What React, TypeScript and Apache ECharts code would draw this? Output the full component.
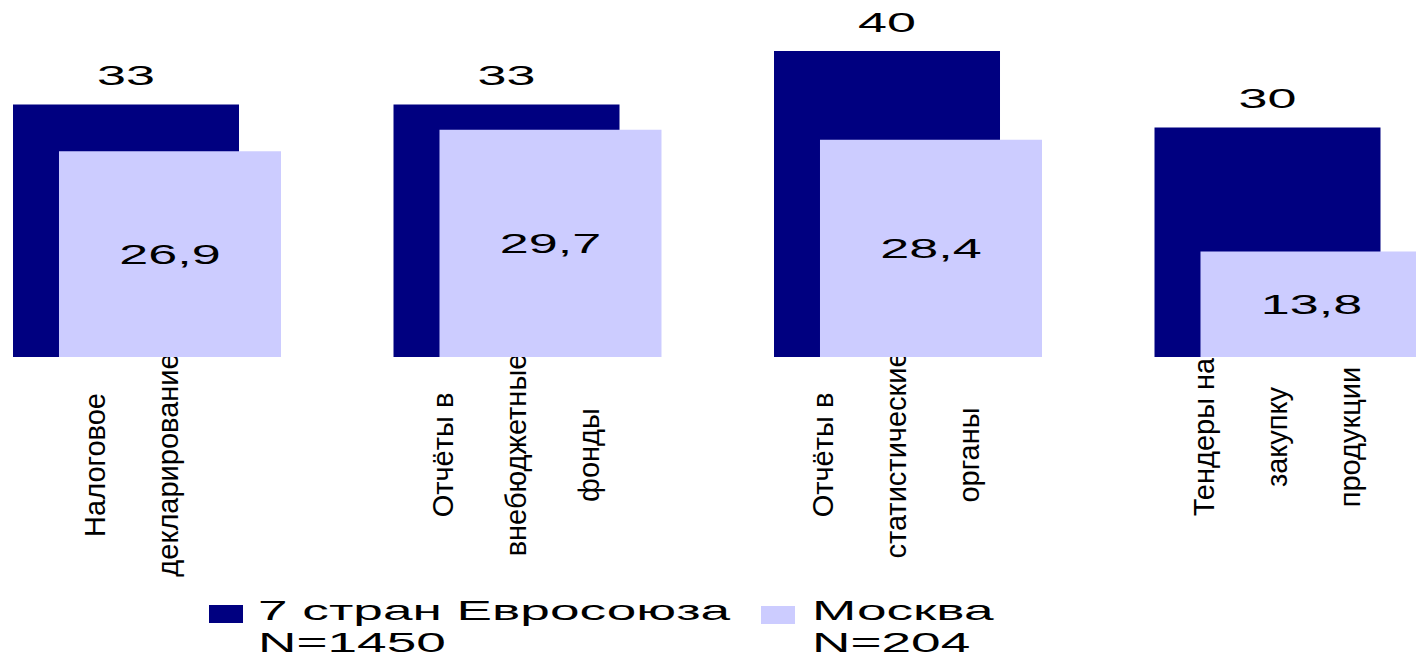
import React, { useEffect, useRef } from "react";
import * as echarts from "echarts";

const categories = [
  "Налоговое\nдекларирование",
  "Отчёты в\nвнебюджетные\nфонды",
  "Отчёты в\nстатистические\nорганы",
  "Тендеры на\nзакупку\nпродукции",
];
const euValues = [33, 33, 40, 30];
const moscowValues = [26.9, 29.7, 28.4, 13.8];
const euName = "7 стран Евросоюза\nN=1450";
const moscowName = "Москва\nN=204";

const NAVY = "#000080";
const LAVENDER = "#CCCCFF";
const FONT = '"Liberation Sans", Arial, sans-serif';
const STRETCH = 1.86;
const LINE_H = 73;

const fmt = (v: number) => String(v).replace(".", ",");

export default function App() {
  const ref = useRef<HTMLDivElement>(null);
  useEffect(() => {
    if (!ref.current) return;
    const chart = echarts.init(ref.current, undefined, { renderer: "svg" });
    // [across shift, right pad, left pad] per category label
    const labelShifts = [
      [16, 20, 0],
      [12, 0, 0],
      [12, 0, 0],
      [12, 0, 36],
    ];
    const labelStyle = {
      align: "center",
      verticalAlign: "top",
      fontSize: 29,
      fontFamily: FONT,
      color: "#000",
      lineHeight: LINE_H,
    };
    chart.setOption({
      animation: false,
      backgroundColor: "#ffffff",
      grid: {
        left: -43.25,
        right: -62.75,
        top: 51,
        bottom: 300,
        containLabel: false,
        outerBoundsMode: "none",
      },
      xAxis: {
        type: "category",
        data: categories.map((c, i) => {
          const n = c.split("\n").length;
          const s = labelShifts[i];
          return {
            value: c,
            textStyle: {
              ...labelStyle,
              padding: [-(LINE_H * n) / 2 - s[0], s[1], 0, s[2]],
            },
          };
        }),
        axisLine: { show: false },
        axisTick: { show: false },
        splitLine: { show: false },
        axisLabel: {
          interval: 0,
          rotate: 90,
          margin: 98,
          hideOverlap: false,
          ...labelStyle,
        },
      },
      yAxis: { type: "value", min: 0, max: 40, show: false, splitLine: { show: false } },
      series: [
        {
          name: euName,
          type: "bar",
          data: euValues,
          barWidth: 226,
          barGap: "-79.65%",
          itemStyle: { color: NAVY },
          z: 2,
        },
        {
          name: moscowName,
          type: "bar",
          data: moscowValues,
          barWidth: 222,
          barGap: "-79.65%",
          itemStyle: { color: LAVENDER },
          z: 2,
        },
        {
          type: "custom",
          z: 5,
          data: euValues.map((v, i) => [i, v]),
          renderItem: (params: any, api: any) => {
            const v = api.value(1);
            const c = api.coord([api.value(0), v]);
            return {
              type: "text",
              x: c[0] - 21,
              y: c[1] - 29,
              scaleX: STRETCH,
              style: {
                text: fmt(v),
                fill: "#000",
                font: `28px ${FONT}`,
                textAlign: "center",
                textVerticalAlign: "middle",
              },
            };
          },
        },
        {
          type: "custom",
          z: 5,
          data: moscowValues.map((v, i) => [i, v]),
          renderItem: (params: any, api: any) => {
            const v = api.value(1);
            const c = api.coord([api.value(0), v]);
            const z0 = api.coord([api.value(0), 0]);
            return {
              type: "text",
              x: c[0] + 23,
              y: (c[1] + z0[1]) / 2,
              scaleX: STRETCH,
              style: {
                text: fmt(v),
                fill: "#000",
                font: `28px ${FONT}`,
                textAlign: "center",
                textVerticalAlign: "middle",
              },
            };
          },
        },
      ],
      graphic: [
        { type: "rect", shape: { x: 209, y: 605, width: 34, height: 18 }, style: { fill: NAVY } },
        {
          type: "text",
          x: 258,
          y: 594,
          scaleX: 1.9,
          style: { text: euName, fill: "#000", font: `28px ${FONT}`, lineHeight: 32, textVerticalAlign: "top" },
        },
        { type: "rect", shape: { x: 761, y: 606, width: 34, height: 18 }, style: { fill: LAVENDER } },
        {
          type: "text",
          x: 812,
          y: 594,
          scaleX: 1.9,
          style: { text: moscowName, fill: "#000", font: `28px ${FONT}`, lineHeight: 32, textVerticalAlign: "top" },
        },
      ],
    });
    return () => chart.dispose();
  }, []);
  return (
    <div
      ref={ref}
      style={{ position: "absolute", left: 0, top: 0, width: 1416, height: 657, background: "#fff" }}
    />
  );
}
